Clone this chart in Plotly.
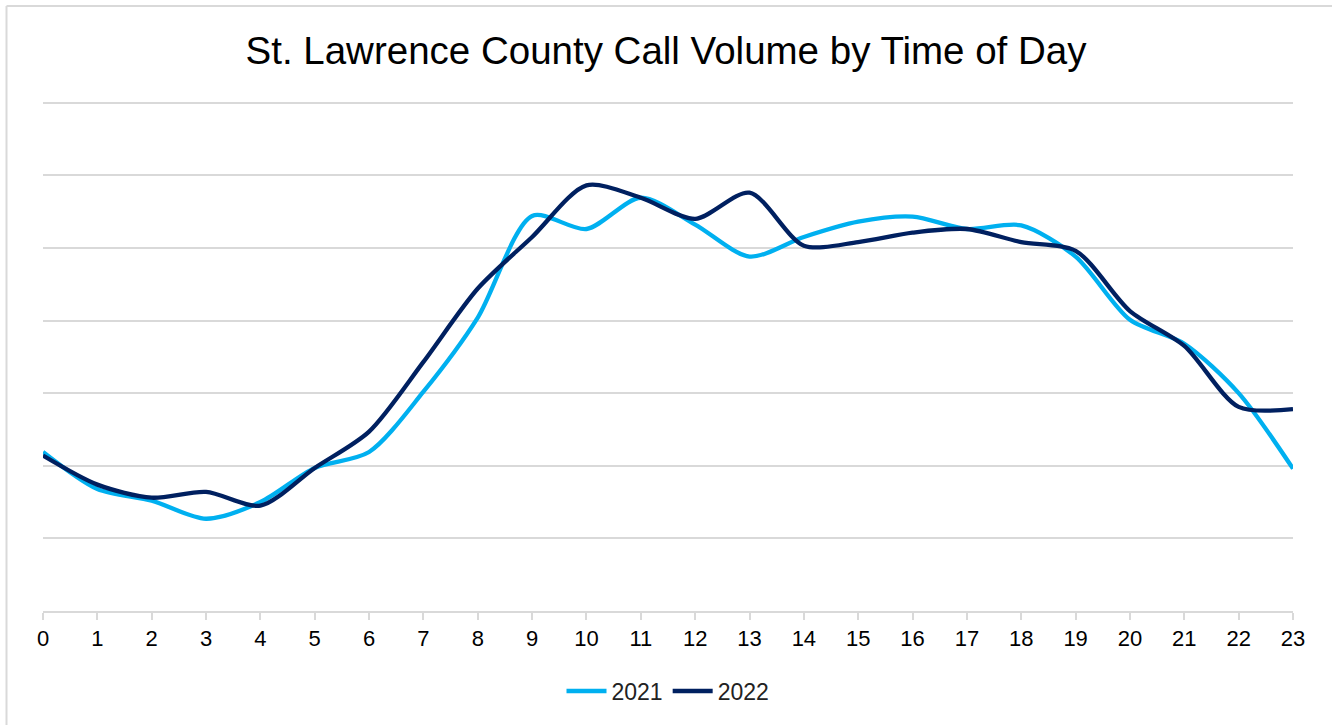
import plotly.graph_objects as go

hours = list(range(24))
tick_labels = [str(h) for h in hours]
calls_2021 = [2.19, 1.68, 1.52, 1.27, 1.50, 1.97, 2.19, 3.02, 4.04, 5.44, 5.26, 5.69,
              5.32, 4.88, 5.15, 5.36, 5.43, 5.26, 5.31, 4.88, 4.01, 3.68, 3.00, 1.96]
calls_2022 = [2.14, 1.74, 1.56, 1.64, 1.45, 1.97, 2.47, 3.43, 4.44, 5.15, 5.86, 5.69,
              5.40, 5.76, 5.03, 5.08, 5.21, 5.26, 5.08, 4.96, 4.13, 3.65, 2.81, 2.78]
series_names = ["2021", "2022"]
colors = ["#00B0F0", "#002060"]

fig = go.Figure()
for name, vals, c in zip(series_names, [calls_2021, calls_2022], colors):
    fig.add_trace(go.Scatter(x=hours, y=vals, name=name, mode="lines",
                             line=dict(color=c, width=4.3, shape="spline", smoothing=0.8)))

W, H = 1332, 725
YMAX = 7.05
L, R, B = 43, 39, 114
ph = 508 * YMAX / 7
T = H - B - ph
pw = W - L - R

fig.update_layout(
    width=W, height=H,
    margin=dict(l=L, r=R, t=T, b=B, pad=0),
    paper_bgcolor="white", plot_bgcolor="white",
    font=dict(family="Liberation Sans, Arial, sans-serif", color="#000000"),
    title=dict(text="St. Lawrence County Call Volume by Time of Day",
               x=0.5, xanchor="center", y=1 - 51 / H, yanchor="middle",
               font=dict(size=38.5, color="#000000")),
    showlegend=True,
    legend=dict(orientation="h", x=0.5, xanchor="center", y=-(691 - 611) / ph,
                yanchor="middle", font=dict(size=23, color="#222222"),
                itemwidth=40, tracegroupgap=0),
    xaxis=dict(range=[0, 23], tickvals=hours, ticktext=tick_labels,
               showgrid=False, zeroline=False, showline=True, linecolor="#D9D9D9",
               linewidth=2, ticks="outside", ticklen=7, tickcolor="#D9D9D9", tickwidth=2,
               tickfont=dict(size=22, color="#000000"), fixedrange=True),
    yaxis=dict(range=[0, YMAX], tickvals=[1, 2, 3, 4, 5, 6, 7], showgrid=True,
               gridcolor="#D9D9D9", gridwidth=2,
               zeroline=False, showticklabels=False, showline=False, fixedrange=True),
)

# chart border (left and top edges visible)
top_y = (H - B - 6.5) / ph
left_x = (6.5 - L) / pw
fig.add_shape(type="line", xref="paper", yref="paper",
              x0=left_x, x1=left_x, y0=-(H - (H - B)) / ph - 0.05, y1=top_y,
              line=dict(color="#D9D9D9", width=2))
fig.add_shape(type="line", xref="paper", yref="paper",
              x0=left_x, x1=(1345 - L) / pw, y0=top_y, y1=top_y,
              line=dict(color="#D9D9D9", width=2))

fig.write_html("out.html", config={"displayModeBar": False},
               post_script="document.body.style.margin='0';")
